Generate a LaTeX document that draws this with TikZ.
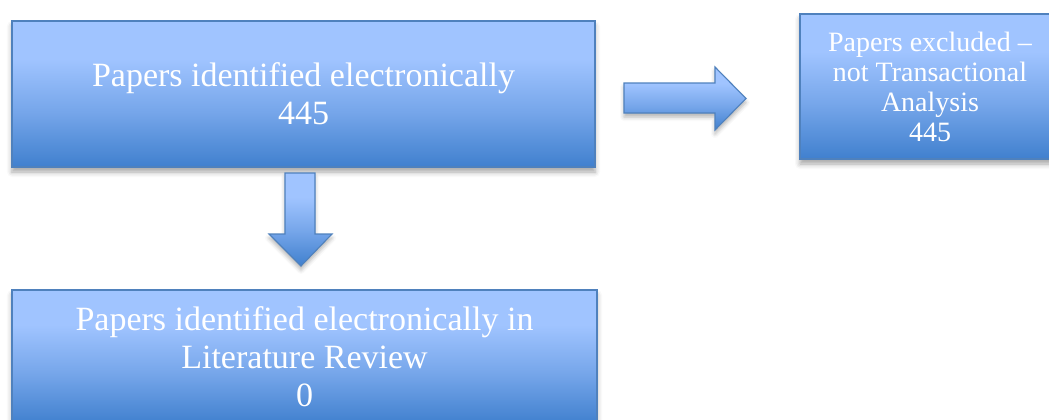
\documentclass[tikz,border=0pt]{standalone}
\usepackage{fontspec}
\setmainfont{Liberation Serif}
\usetikzlibrary{shadows.blur,calc}
\definecolor{boxdark}{RGB}{64,128,206}
\definecolor{boxmid}{RGB}{118,166,234}
\definecolor{boxlight}{RGB}{160,196,255}
\definecolor{boxline}{RGB}{79,129,189}
\pgfdeclareverticalshading{boxshade}{100bp}{color(0bp)=(boxdark); color(25bp)=(boxdark); color(44bp)=(boxmid); color(62bp)=(boxlight); color(100bp)=(boxlight)}
\tikzset{
  flowbox/.style={draw=boxline, line width=1.2pt, shading=boxshade, text=white,
    align=center, inner sep=0pt,
    blur shadow={shadow xshift=0pt, shadow yshift=-5pt, shadow blur radius=5pt, shadow opacity=35}},
  blockarrow/.style={draw=boxline, line width=1.1pt, shading=boxshade, line join=miter,
    blur shadow={shadow xshift=0pt, shadow yshift=-4pt, shadow blur radius=4pt, shadow opacity=30}},
  bigtext/.style={font=\fontsize{34}{38}\selectfont},
  smalltext/.style={font=\fontsize{28}{30}\selectfont}
}
\begin{document}
\begin{tikzpicture}[x=1pt,y=-1pt]
\useasboundingbox (0,0) rectangle (1049,420);
\clip (0,0) rectangle (1049,420);
\node[flowbox, bigtext, minimum width=583pt, minimum height=146pt] (top) at (303.5,94)
  {Papers identified electronically\\445};
\node[flowbox, smalltext, minimum width=260pt, minimum height=145pt] (excl) at (930,86.5)
  {Papers excluded –\\not Transactional\\Analysis\\445};
\node[flowbox, bigtext, minimum width=585pt, minimum height=134pt] (lit) at (304.5,357)
  {Papers identified electronically in\\Literature Review\\0};
% right block arrow
\path[blockarrow] (624,83) -- (715,83) -- (715,67) -- (746,98.5) -- (715,130) -- (715,113) -- (624,113) -- cycle;
% down block arrow
\path[blockarrow] (285,173) -- (315,173) -- (315,234) -- (332,234) -- (301,266) -- (269,234) -- (285,234) -- cycle;
\end{tikzpicture}
\end{document}
